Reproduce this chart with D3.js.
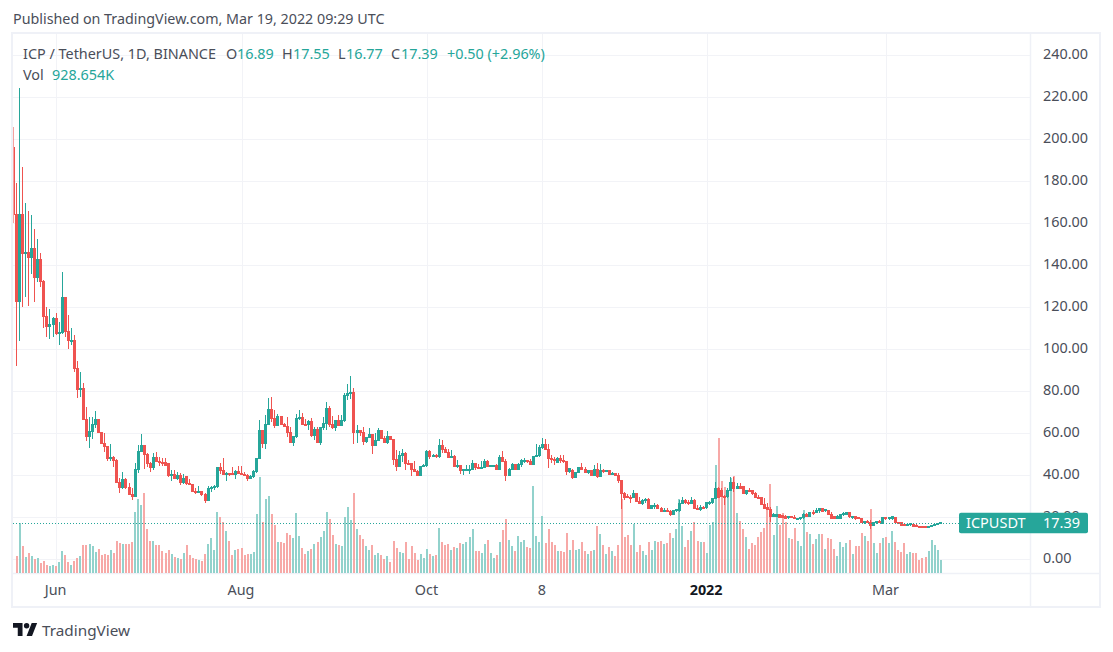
<!DOCTYPE html>
<html><head><meta charset="utf-8">
<script src="https://cdnjs.cloudflare.com/ajax/libs/d3/7.8.5/d3.min.js"></script>
<style>html,body{margin:0;padding:0;background:#fff}svg{display:block}text{font-family:"Noto Sans",sans-serif}</style>
</head><body><svg id="c" width="1113" height="652"></svg>
<script>
const opens=[196,164,122.7,164,145.7,146.3,143.6,147.8,134,143,132.2,115.5,110.8,112,114.9,107.3,108,124.9,108.4,104,104.4,91,81,81.4,66.7,58.4,60.9,64.3,66.8,60.3,55.1,53.6,47.8,48.7,47.1,36.5,34.1,37.8,34.1,30.8,29.8,42.8,51.1,54.4,49.8,45.5,43.6,48.7,46.7,46.2,46,45.4,39.8,40.5,38.4,39.8,36.8,39.2,36.3,35.5,32.1,31.7,32.5,30.8,28.2,33.5,34,34.6,43.5,42.4,40.3,40.9,40.8,40.6,42,40.8,40.5,40.1,38.6,39.2,42,48.1,61.5,55,64.4,71.5,66.9,63.9,68.2,64.4,63.1,60.6,55.5,58.7,67.1,67.7,64.1,64,65.8,58.8,61.8,55.8,62.8,64.7,72,64.4,62.6,66.3,63.9,66,78.2,79,79.6,60.6,61.4,60.6,56.3,58.2,59.6,54.4,56.8,61.5,57.4,55.8,58.7,57.1,47.4,44.4,49.5,50.4,45.8,45.7,43,42,40.1,44.2,44.5,51.5,49,49.6,48.8,54.4,52.3,50.7,48.7,49.1,44.1,44.5,42.5,42.7,42.8,43,45.8,43.6,43.5,43.8,46.8,44.1,44.5,44.6,43,48.7,46.8,40.1,43,45.3,43,45,46.9,47.1,46.8,45.3,49.1,49.5,53.3,54.9,52.3,47.9,47.6,45.9,48.2,47.2,46.4,42,42.5,39,41.4,43.6,42.8,41.4,42.2,39.8,43,39.3,42.5,42,42.3,40.4,40.9,40.1,37.7,31.4,29.9,29.5,29.3,31.4,27.7,26.5,28.2,28.5,24.4,25.5,25.7,24.4,22.6,23.4,22.6,21.4,23.1,23.1,26.8,28.2,27.1,26.6,28.2,24.1,23.6,24.7,24.7,26.8,27.1,29,33.8,33,30.1,29.8,33,36.5,33.6,34.6,34.6,31.1,32.7,32.6,31.1,29.4,29.3,26.3,24.7,23.8,20.3,20.6,21.1,20.8,20.3,19.8,20.3,20.1,19,19.3,19.8,21.4,20.3,22.3,22.2,23.1,24.2,23.1,23.1,21.1,20.3,19.2,19.5,21.1,21.5,22.3,19.8,20.3,19.9,19.2,17.6,18.2,17.6,16.3,17.6,18.2,17.1,19.8,19.2,19.5,20.1,17.6,17.6,16.6,16.3,16.6,16.8,16.2,15.8,15.8,15.8,15.5,15.8,16.1,16.5,16.89];
const highs=[206,179,224.4,187,169.5,165.9,164,157.3,152.5,145.9,133,120.2,119,115.4,117.3,113,136.8,125,116.3,110,106.8,94.3,89.2,83.8,72.4,67.6,67.9,70.6,66.9,60.8,60.3,54,54.9,49.2,47.6,38.6,41.4,38.6,36.5,33.8,45.7,54.4,59.7,54.4,50.5,46.5,50.5,51.3,48.6,48.1,48.1,45.4,42.5,42.5,41.7,40.9,40.6,39.7,38.4,35.9,33.8,34.9,32.5,31.7,35,34.9,35.4,43.5,45.7,48.2,41.6,41.2,44.1,42.5,44.4,44.3,41.7,40.5,40.1,42.5,48.1,66.3,61.5,68.7,76.6,77.1,71,69,68.2,64.9,67.6,63.1,58.7,69.1,71,69.8,66.6,66.3,67.1,63.1,62.8,63.1,67.9,74.7,73.1,68.4,66.3,68.7,68.7,79.3,83.4,87.2,81.4,63.9,61.5,63.1,58.4,62.3,59.6,60,62.3,61.5,58.7,61,58.7,57.1,52,51.5,52.3,51.2,47.2,45.7,46.9,42.5,44.5,45.2,52,52,50.1,50.1,57.2,56.8,53.3,52.6,52,49.6,47.2,44.9,43,44.9,44.9,47.2,45.8,45.2,46.9,48,47.2,44.9,44.9,45.2,49.6,51.5,48,43.3,45.7,45.3,45.7,47.6,48.4,47.5,48,49.1,54.7,54.4,58,57.1,54.9,49.6,48.5,48.8,49.6,49.6,46.9,43.4,42.8,41.7,43.6,46,44.1,42.5,42.5,44.9,46,45.3,42.8,42.5,42.5,41.4,41.2,41.2,38,32.2,31.1,30.6,33,31.4,29.8,28.5,29.3,29,25.8,26.6,26.3,24.7,24.2,24.2,23.4,23.4,23.8,28.2,29.5,28.5,28.2,29.5,28.5,25.8,25.7,25.3,27.4,28,29.3,37,34.5,33.8,30.6,33.8,39.3,39.3,36.1,36.1,34.9,33,33.8,33,32.2,30.4,29.5,29,26.6,24.7,21.9,21.5,21.4,21.3,21,20.8,20.8,20.9,19.8,20.3,22.2,22.2,22.7,23.5,24.2,24.6,24.4,23.5,23.5,22.3,20.6,21,21.1,22.3,22.7,22.7,20.7,20.6,20.3,19.5,18.4,18.6,18.7,17.9,18.4,18.6,20.3,20.3,20.3,20.6,20.3,18,17.9,17,17,17.3,17.2,16.6,16,16,16,16,16.3,16.9,17.1,17.55];
const lows=[160,92,104,120,125,120.6,135.8,122.7,132.2,129.8,110.3,106,104.8,105.7,106.8,102,107.5,105.8,100.3,102,89.3,77,77.4,66.5,56.5,53.2,57.5,62.4,60,54.8,51.3,47,46.8,44.1,36.2,31.7,33.3,33.3,30.8,28.2,29.8,40.9,51.1,43.2,44.1,41.7,42.5,46.5,44.4,44.4,44.9,39.4,37.5,38.1,37.8,35.4,35.9,35.2,35.2,32.1,31.1,31.7,30.3,27,27.9,32.1,33,34.1,40.6,40.3,37.3,39.8,40.3,38.4,40.5,40,39.8,37.5,38.1,38.6,40.9,48.1,52.8,52.5,63.9,65.5,62.3,63.9,63.9,62.8,58.4,55.2,54.1,58,66.3,63.9,63.4,61.8,58.4,56.8,55.5,54.5,61.8,61.5,63.1,62.2,61.2,63.9,63.9,65.5,75.8,76.1,54.9,55.5,58.7,54.4,55.5,57.6,50.1,54.4,56.8,57.1,55.5,54.9,56.8,44.9,42.2,44.1,46.5,42.5,44.9,39.6,41.7,40.1,40.1,43.8,44.1,48,48.5,48.4,48.4,50.4,50.4,48.5,48.5,43.9,43.3,40.6,40.1,42.2,40.4,42.8,42.5,42.8,43.4,43.4,43.8,43.8,43.9,42.5,43,46.5,37.2,39.8,43,42.5,42.8,44.1,45.7,46,45.2,45.2,48.8,48.8,52.3,52,43.6,46,44.9,45.7,46,46,40.1,40.9,38.4,39.3,41.2,42.5,40.9,40.6,39.6,39.6,38.5,39,41.2,41.5,40.1,40,40.1,36.1,23.9,28.2,29,26.6,29.2,27.7,26.1,25.8,26.9,23.9,23.8,24.1,24.1,22.3,22.5,22.6,20.6,21.1,22.5,22.6,26.5,26.3,25.8,26.3,23.8,23.4,23.1,23.8,24,26,26.3,28.5,29,29.5,25.8,29,32.5,32.2,33.3,33.6,30.9,30.4,32,30.6,29,28.8,25.8,24.2,23.8,17.9,20,20.2,19.5,19.5,19.6,19,19.8,19,18.6,18.8,19.2,20,20,21.2,21.9,22.2,22.4,22.3,20.9,19,19,19,19.2,20.8,21,19.8,19.4,18.8,19,17.2,16.9,17.4,14.2,15.8,17,17.2,17.1,18.7,18.9,18.7,17.4,17.2,15.8,15.8,15.9,16,15.7,15.3,15.3,15.2,15.2,15.2,15.5,15.8,16.2,16.77];
const closes=[164,122.7,164,145.7,146.3,143.6,147.8,134,143,132.2,115.5,110.8,112,114.9,107.3,108,124.9,108.4,104,104.4,90.8,81,81.4,66.7,58.4,60.9,64.3,66.8,60.3,55.1,53.6,47.8,48.7,47.1,36.5,34.1,37.8,34.1,30.8,29.8,42.8,51.1,54.4,49.8,45.5,43.6,48.7,46.7,46.2,46,44.9,39.8,40.5,38.4,39.8,36.8,38.6,36.3,35.5,32.1,31.7,32.5,30.8,28.2,33.5,34,34.6,43.5,42.4,40.3,40.9,40.8,40.6,42,40.8,40.5,39.8,38.6,39.2,42,48.1,61.5,55,64.4,71.5,66.9,63.9,68.2,64.4,63.1,60.6,55.5,58.7,67.1,67.7,64.1,64,65.8,58.8,61.8,55.8,62.8,64.7,72,64.4,62.6,66.3,63.9,66,78.2,79,79.6,60.6,61.4,60.6,56.3,58.2,59.6,54.4,56.8,61.5,57.4,55.8,58.7,57.1,47.4,44.4,49.5,50.4,45.8,45.7,43,42,40.1,44.2,44.5,51.5,49,49.6,48.8,54.4,52.3,50.7,48.7,49.1,44.1,44.5,42.5,42.7,42.8,43,45.8,43.6,43.5,43.8,46.8,44.1,44.5,44.6,43,48.7,46.8,40.1,43,45.3,43,45,46.9,47.1,46.8,45.3,49.1,49.5,53.3,54.9,52.3,47.9,47.6,47.2,48.2,47.2,46.4,42,43.3,39,41.4,43.6,42.8,41.4,42.2,39.8,43,39.3,42.5,42.2,42.3,40.4,40.9,40.1,37.7,31.4,29.5,29.5,29.3,31.4,27.7,26.5,28.2,28.5,24.4,25.5,25.7,24.4,22.6,23.4,22.6,21.4,23.1,23.6,26.8,28.2,27.1,26.6,28.2,24.1,23.6,24.7,24.2,27.1,27.1,29,33.8,29.5,30.1,29.8,33,36.5,33.6,34.6,33.9,31.1,32.7,32.2,31.1,29.2,28.8,26.3,24.4,23.8,20.3,21.1,21.1,20,19.8,19.2,20.3,20.1,19.2,19.3,20.1,21.4,20.3,22.3,21.7,23.1,24.2,22.7,23.5,21.1,19.5,19.2,20.3,21.1,21.9,22.3,20.3,20.3,19.2,19.3,17.6,17.9,17.6,16.3,17.6,18.2,17.6,19.8,19.2,19.8,20.3,17.6,17.4,16,16,16.8,17.1,15.8,15.5,15.5,15.5,15.5,15.8,16.1,16.6,16.89,17.39];
const volumes=[0,1210,3490,1908,1140,1420,1210,1000,1070,721,861,582,512,582,512,791,1559,1280,791,582,861,1070,1210,1978,1978,2048,1908,1489,1699,1280,1350,1280,1629,1420,2257,2118,2048,2048,2048,2187,4282,5189,4770,5608,3095,2257,2257,1978,1978,1559,1420,1629,1350,1140,1070,1000,1420,1978,1280,1070,1000,931,861,1350,2048,2467,1629,4282,3933,3584,2955,2257,1280,1629,1699,1769,1280,1350,1350,1489,4142,6725,3584,5189,5399,4142,3374,2187,2187,2118,2816,2676,2467,4212,2606,1769,1350,1559,1699,2048,2187,2536,2955,4282,3793,2676,2048,1978,1908,3933,4631,3723,5608,3095,2676,2397,1908,1629,1978,1280,1420,1280,1000,1210,791,2257,1769,1489,1420,2187,1000,1908,1420,931,1350,1070,1699,1350,1210,1280,3165,2187,1978,2048,1629,1838,1769,2118,2048,2187,2536,3095,1559,1559,1420,2048,2327,1420,1070,1280,2187,3025,3793,2327,1908,1559,2606,2187,2327,1838,1769,6097,2606,2187,4002,2118,3095,2187,1978,1559,1559,1489,2816,1629,2327,1629,1699,2187,1559,1350,1559,1629,3304,2746,1978,1350,1838,1559,1210,1978,5189,2536,2676,1978,3444,1489,1978,1559,1280,2187,1629,2257,2187,2257,2048,2118,2816,2467,3095,5189,3304,1838,2327,2955,3584,2257,2187,2211,1443,3374,3607,7563,9424,6446,6050,5818,6632,6795,4189,3653,3095,2560,1699,2141,1978,2560,2885,3188,4654,6236,2676,4700,3374,4189,3584,2467,2397,3141,2257,1908,4421,2862,2746,2048,2397,2746,2746,1699,2443,2374,1699,1210,2211,1815,2141,2327,1350,1908,1908,2792,2606,2280,4491,2141,1443,2094,2443,2560,2094,2955,2211,1629,1513,2141,1350,1513,1443,1396,931,1047,1117,1559,2327,1978,1629,928.654];
const priceTicks=[0,20,40,60,80,100,120,140,160,180,200,220,240];
const timeTicks=["2021-06-01","2021-08-01","2021-10-01","2021-11-08","2022-01-01","2022-03-01"];
const timeLabels=["Jun","Aug","Oct","8","2022","Mar"];
const legendParts=[["ICP / TetherUS, 1D, BINANCE",23,0],["O",226,0],["16.89",237,1],["H",282,0],["17.55",293,1],["L",338,0],["16.77",346,1],["C",391,0],["17.39",401,1],["+0.50 (+2.96%)",447,1]];
const lastClose=17.39;

const UP="#26a69a",DOWN="#ef5350",VUP="#92d2cc",VDOWN="#f7a9a7",GRID="#f2f3f7",FRAME="#eff1f7",TXT="#4a4e59",DARK="#131722";
const svg=d3.select("#c");
const parse=d3.utcParse("%Y-%m-%d");
const first=parse("2021-05-18");
const dates=opens.map((_,i)=>d3.utcDay.offset(first,i));
const x=d3.scaleUtc().domain([first,dates[dates.length-1]]).range([13.5,940.7]);
const y=d3.scaleLinear().domain([0,240]).range([559.3,55.3]);
const yV=d3.scaleLinear().domain([0,10000]).range([573.3,430]);
const L=13,R=1030,T=34,B=573.3;
const bars=dates.map((d,i)=>({d,i,o:opens[i],h:highs[i],l:lows[i],c:closes[i],v:volumes[i]}));

const defs=svg.append("defs");
defs.append("clipPath").attr("id","cw").append("rect").attr("x",L).attr("y",T).attr("width",R-L).attr("height",B-T);
defs.append("clipPath").attr("id","cb").append("rect").attr("x",L+1).attr("y",T).attr("width",R-L).attr("height",B-T);

// grid through axes
const gy=svg.append("g").attr("transform",`translate(${L},0)`).call(d3.axisRight(y).tickValues(priceTicks).tickSize(R-L).tickFormat(""));
gy.select(".domain").remove();
gy.selectAll("line").attr("stroke",GRID).attr("shape-rendering","crispEdges");
const gx=svg.append("g").attr("transform",`translate(0,${T})`).call(d3.axisBottom(x).tickValues(timeTicks.map(parse)).tickSize(B-T).tickFormat(""));
gx.select(".domain").remove();
gx.selectAll("line").attr("stroke",GRID).attr("shape-rendering","crispEdges");

// frame
svg.append("rect").attr("x",12).attr("y",33).attr("width",1088).attr("height",574).attr("fill","none").attr("stroke",FRAME).attr("stroke-width",2);
svg.append("line").attr("x1",L).attr("x2",1100).attr("y1",573.5).attr("y2",573.5).attr("stroke",FRAME).attr("stroke-width",1.5);
svg.append("line").attr("x1",1030.5).attr("x2",1030.5).attr("y1",34).attr("y2",606).attr("stroke",FRAME).attr("stroke-width",1.5);

// volume
svg.append("g").attr("clip-path","url(#cb)").selectAll("rect").data(bars).join("rect")
 .attr("x",d=>Math.round(x(d.d))-1).attr("width",2)
 .attr("y",d=>yV(d.v)).attr("height",d=>yV(0)-yV(d.v))
 .attr("fill",d=>d.c>=d.o?VUP:VDOWN).attr("shape-rendering","crispEdges");

// candles
const col=d=>d.c>=d.o?UP:DOWN;
svg.append("g").attr("clip-path","url(#cw)").selectAll("rect").data(bars).join("rect")
 .attr("x",d=>Math.floor(x(d.d))).attr("width",1)
 .attr("y",d=>y(d.h)).attr("height",d=>y(d.l)-y(d.h))
 .attr("fill",col).attr("opacity",d=>d.i===0?0.55:1).attr("shape-rendering","crispEdges");
svg.append("g").attr("clip-path","url(#cb)").selectAll("rect").data(bars).join("rect")
 .attr("x",d=>Math.floor(x(d.d))-1).attr("width",3)
 .attr("y",d=>y(Math.max(d.o,d.c))-0.5).attr("height",d=>Math.max(2,Math.abs(y(d.o)-y(d.c))+1))
 .attr("fill",col).attr("shape-rendering","crispEdges");

// price axis labels
const ay=svg.append("g").attr("transform",`translate(1043,0)`).call(d3.axisRight(y).tickValues(priceTicks).tickSize(0).tickPadding(0).tickFormat(d3.format(".2f")));
ay.select(".domain").remove();
ay.selectAll("text").attr("font-size",14.4).attr("font-family",'"Noto Sans",sans-serif').attr("fill",TXT).attr("dy",".32em").attr("y",-1.3);

// time axis labels
const ax=svg.append("g").attr("transform",`translate(0,590)`).call(d3.axisBottom(x).tickValues(timeTicks.map(parse)).tickSize(0).tickPadding(0).tickFormat((d,i)=>timeLabels[i]));
ax.select(".domain").remove();
ax.selectAll("text").attr("font-size",14.4).attr("font-family",'"Noto Sans",sans-serif').attr("fill",(d,i)=>timeLabels[i]==="2022"?DARK:TXT).attr("font-weight",(d,i)=>timeLabels[i]==="2022"?700:400).attr("dy",".32em").attr("y",0).attr("dx",-1);

// last price line and tag
svg.append("line").attr("x1",L).attr("x2",959).attr("y1",Math.round(y(lastClose))+.5).attr("y2",Math.round(y(lastClose))+.5).attr("stroke",UP).attr("stroke-dasharray","1 2");
svg.append("rect").attr("x",959).attr("y",y(lastClose)-10).attr("width",129).attr("height",20.5).attr("rx",2).attr("fill",UP);
svg.append("text").attr("x",966).attr("y",y(lastClose)+5.5).attr("font-size",14.5).attr("fill","#fff").text("ICPUSDT");
svg.append("text").attr("x",1080).attr("y",y(lastClose)+5.5).attr("text-anchor","end").attr("font-size",14.5).attr("fill","#fff").text(lastClose.toFixed(2));

// header texts
svg.append("text").attr("x",13).attr("y",24).attr("font-size",14.3).attr("fill",TXT).text("Published on TradingView.com, Mar 19, 2022 09:29 UTC");
svg.append("g").selectAll("text").data(legendParts).join("text")
 .attr("x",d=>d[1]).attr("y",59).attr("font-size",14.4).attr("fill",d=>d[2]?UP:TXT).text(d=>d[0]);
svg.append("text").attr("x",23).attr("y",80).attr("font-size",14.4).attr("fill",TXT).text("Vol");
svg.append("text").attr("x",52).attr("y",80).attr("font-size",14.4).attr("fill",UP).text("928.654K");

// logo
const lg=svg.append("g").attr("transform","translate(13,620.3) scale(.68)").attr("fill",DARK);
lg.append("path").attr("d","M14 23H7V11H0V4h14v19zM28 23h-8l7.5-19h8L28 23z");
lg.append("circle").attr("cx",20).attr("cy",8).attr("r",4);
svg.append("text").attr("x",42).attr("y",636).attr("font-size",15.3).attr("fill",TXT).text("TradingView");
</script></body></html>
